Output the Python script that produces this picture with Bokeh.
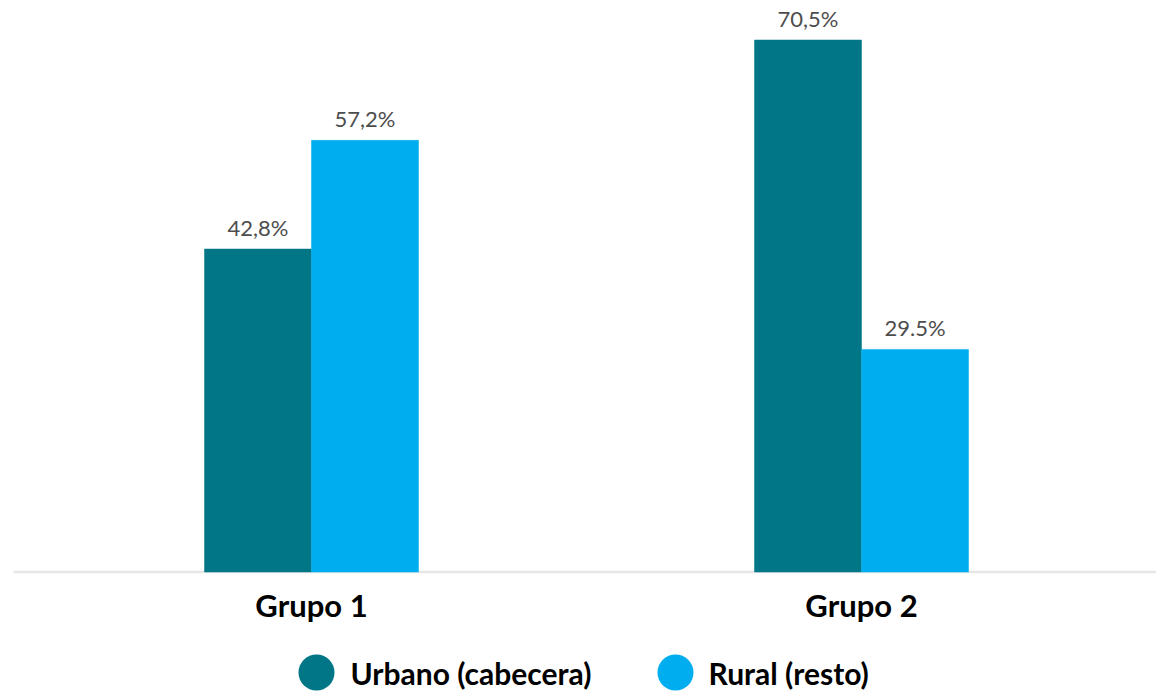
from bokeh.plotting import figure
from bokeh.models import ColumnDataSource, Range1d
from bokeh.core.properties import value
from bokeh.embed import file_html
from bokeh.resources import INLINE

groups = ["Grupo 1", "Grupo 2"]
series = ["Urbano (cabecera)", "Rural (resto)"]
urbano = [42.8, 70.5]
rural = [57.2, 29.5]
urbano_labels = ["42,8%", "70,5%"]
rural_labels = ["57,2%", "29.5%"]
colors = ["#007686", "#00AEEF"]

FONT = "Lato"
W, H = 1156, 692
group_x = [1, 2]

# layout (pixels) -> data scales
PX_PER_X = 550.0
X0_PX = 311.0          # pixel of group 1 centre
BASE_PX = 571.5        # pixel of baseline
PX_PER_Y = 7.546
bw = 107.0 / PX_PER_X

def px_x(px):
    return 1 + (px - X0_PX) / PX_PER_X

def px_y(py):
    return (BASE_PX - py) / PX_PER_Y

p = figure(width=W, height=H, output_backend="svg", toolbar_location=None,
           x_range=Range1d(px_x(0), px_x(W)), y_range=Range1d(px_y(H), px_y(0)),
           x_axis_location=None, y_axis_location=None,
           min_border_left=0, min_border_right=0, min_border_top=0, min_border_bottom=0)
p.outline_line_color = None
p.grid.visible = False
p.background_fill_color = "white"
p.border_fill_color = "white"

# baseline
p.segment(x0=[px_x(13)], y0=[0], x1=[px_x(W)], y1=[0], line_color="#e6e6e6", line_width=2.5)

src_u = ColumnDataSource(dict(x=[g - bw / 2 for g in group_x], top=urbano, label=urbano_labels))
src_r = ColumnDataSource(dict(x=[g + bw / 2 for g in group_x], top=rural, label=rural_labels))

for src, col in ((src_u, colors[0]), (src_r, colors[1])):
    p.vbar(x="x", top="top", bottom=0, width=bw, source=src, fill_color=col,
           line_color=col, line_width=0.5)
    p.text(x="x", y="top", text="label", source=src, text_align="center",
           text_baseline="bottom", y_offset=-8, text_font=value(FONT),
           text_font_size="22px", text_color="#4d4d4d")

# category labels
p.text(x=group_x, y=[0, 0], text=groups, text_align="center", text_baseline="middle",
       y_offset=33, text_font=value(FONT), text_font_style="bold",
       text_font_size="31px", text_color="#000000")

# legend
leg_circle_px = [316, 675]
leg_text_px = [350, 708]
leg_y = px_y(672)
p.scatter(x=[px_x(v) for v in leg_circle_px], y=[leg_y, leg_y], marker="circle",
          size=36, fill_color=colors, line_color=None)
p.text(x=[px_x(v) for v in leg_text_px], y=[leg_y, leg_y], text=series,
       text_align="left", text_baseline="middle", text_font=value(FONT),
       text_font_style="bold", text_font_size="30px", text_color="#000000")

open("out.html", "w").write(file_html(p, INLINE))
